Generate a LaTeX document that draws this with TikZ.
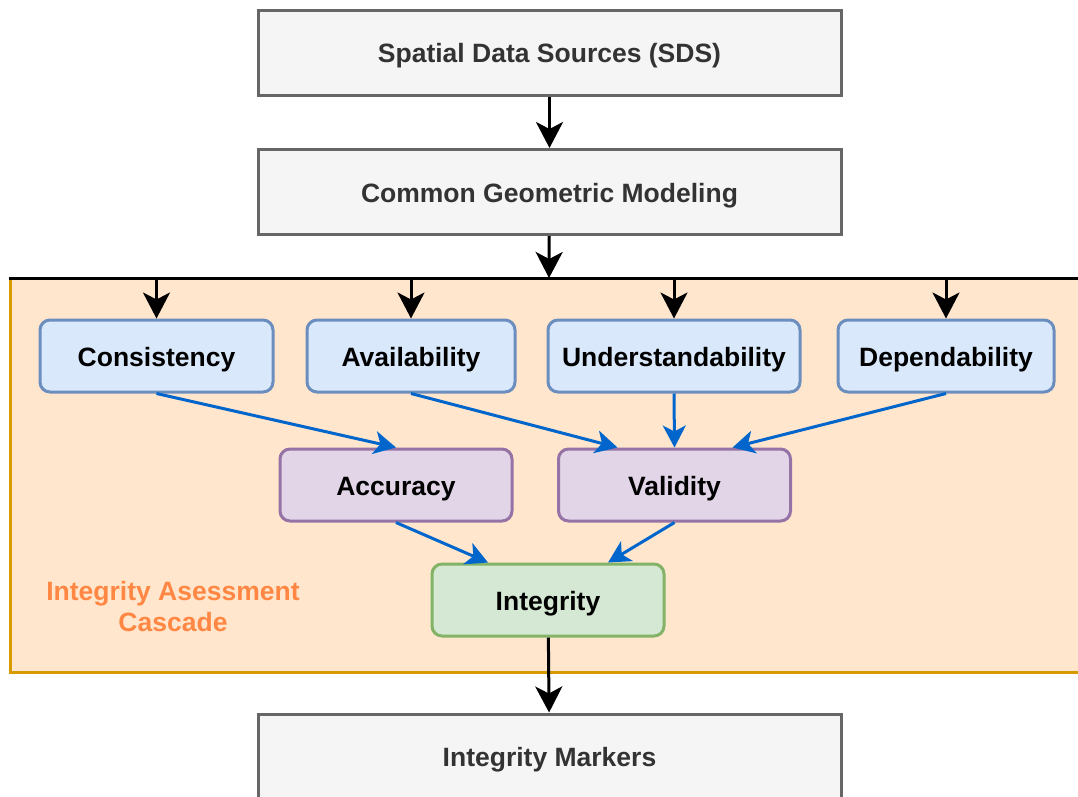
\documentclass[tikz,border=0pt]{standalone}
\usepackage{fontspec}
\setmainfont{Liberation Sans}
\usetikzlibrary{arrows.meta}
\definecolor{grayfill}{HTML}{F5F5F5}
\definecolor{grayline}{HTML}{666666}
\definecolor{graytext}{HTML}{333333}
\definecolor{bluefill}{HTML}{DAE8FC}
\definecolor{blueline}{HTML}{6C8EBF}
\definecolor{purplefill}{HTML}{E1D5E7}
\definecolor{purpleline}{HTML}{9673A6}
\definecolor{greenfill}{HTML}{D5E8D4}
\definecolor{greenline}{HTML}{82B366}
\definecolor{cascfill}{HTML}{FFE6CC}
\definecolor{cascline}{HTML}{D79B00}
\definecolor{cascfont}{HTML}{FF8743}
\definecolor{linkblue}{HTML}{0066CC}
\tikzset{
	txt/.style={font=\fontsize{26.5}{31}\selectfont\bfseries},
	boxtxt/.style={txt,text height=24pt,text depth=4pt},
	stage/.style={boxtxt,draw=grayline,fill=grayfill,text=graytext,line width=3pt,minimum width=583pt,minimum height=85pt},
	factor/.style={boxtxt,draw=blueline,fill=bluefill,line width=3pt,rounded corners=10pt,minimum height=72pt},
	middle/.style={boxtxt,draw=purpleline,fill=purplefill,line width=3pt,rounded corners=10pt,minimum width=232pt,minimum height=72pt},
	final/.style={boxtxt,draw=greenline,fill=greenfill,line width=3pt,rounded corners=10pt,minimum width=232pt,minimum height=72pt},
	flow/.style={line width=3pt,-{Stealth[length=26pt,width=27pt,inset=7pt]}},
	link/.style={draw=linkblue,line width=3pt,-{Stealth[length=22pt,width=23pt,inset=6pt]}}
}
\begin{document}
\begin{tikzpicture}[x=1pt,y=-1pt]
	\useasboundingbox(0,0) rectangle (1078,796);
	% cascade area
	\fill[cascfill](10,278) rectangle (1095,672);
	\draw[cascline,line width=3pt](10,278)--(10,672)--(1095,672);
	\draw[line width=3pt](8.5,278)--(1095,278);
	\coordinate (bar) at (549,278);
	\node[text=cascfont,txt,align=center] (label) at (173,607){Integrity Asessment\\Cascade};
	% main chain
	\node[stage] (sds) at (549.5,52.5){Spatial Data Sources (SDS)};
	\node[stage] (cgm) at (549.5,192){Common Geometric Modeling};
	\node[stage] (marks) at (549.5,756.5){Integrity Markers};
	% factors
	\node[factor,minimum width=233pt] (cons) at (156.5,356){Consistency};
	\node[factor,minimum width=208pt] (avail) at (411,356){Availability};
	\node[factor,minimum width=252pt] (under) at (674,356){Understandability};
	\node[factor,minimum width=216pt] (depend) at (946,356){Dependability};
	\node[middle] (acc) at (396,485){Accuracy};
	\node[middle] (valid) at (674.5,485){Validity};
	\node[final] (integ) at (548,600){Integrity};
	% black arrows
	\draw[flow](sds)--(cgm);
	\draw[flow](cgm)--(bar);
	\draw[flow](integ)--(marks);
	\foreach \f in {cons,avail,under,depend}
		\draw[flow](\f.north |- bar)--(\f.north);
	% blue arrows
	\draw[link](cons.south)--(acc.north);
	\draw[link](avail.south)--([xshift=-57pt]valid.north);
	\draw[link](under.south)--(valid.north);
	\draw[link](depend.south)--([xshift=58pt]valid.north);
	\draw[link](acc.south)--([xshift=-60pt]integ.north);
	\draw[link](valid.south)--([xshift=60pt]integ.north);
\end{tikzpicture}
\end{document}
